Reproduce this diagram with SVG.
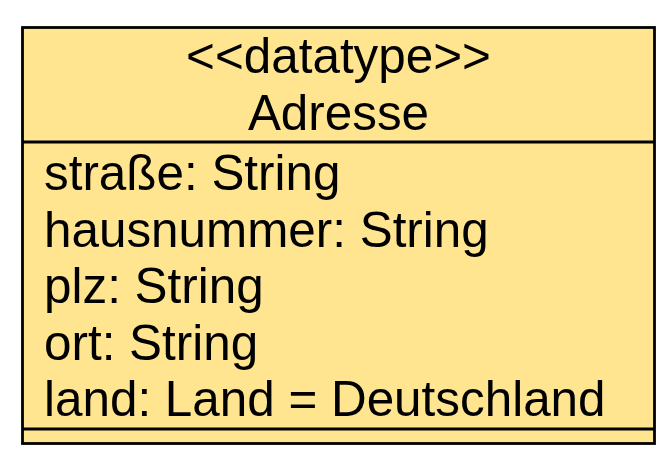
<svg xmlns="http://www.w3.org/2000/svg" width="672" height="472" viewBox="0 0 672 472">
<style>
.t{font-family:"Liberation Sans",Arial,sans-serif;font-size:49.4px;fill:#000}
.c{text-anchor:middle}
.ln{stroke:#000;stroke-width:2.8;fill:none}
</style>
<rect width="672" height="472" fill="#fff"/>
<g id="Adresse">
<rect x="22.5" y="27.5" width="632" height="416" fill="#FFE590" stroke="#000" stroke-width="2.8"/>
<line class="ln" x1="22.5" y1="142" x2="654.5" y2="142"/>
<line class="ln" x1="22.5" y1="429" x2="654.5" y2="429"/>
<text class="t c" x="338.5" y="73">&lt;&lt;datatype&gt;&gt;</text>
<text class="t c" x="338.5" y="130">Adresse</text>
<text class="t" x="44" y="190">straße: String</text>
<text class="t" x="44" y="246.5">hausnummer: String</text>
<text class="t" x="44" y="303">plz: String</text>
<text class="t" x="44" y="359.5">ort: String</text>
<text class="t" x="44" y="416">land: Land = Deutschland</text>
</g>
<g id="connectors"></g>
</svg>
